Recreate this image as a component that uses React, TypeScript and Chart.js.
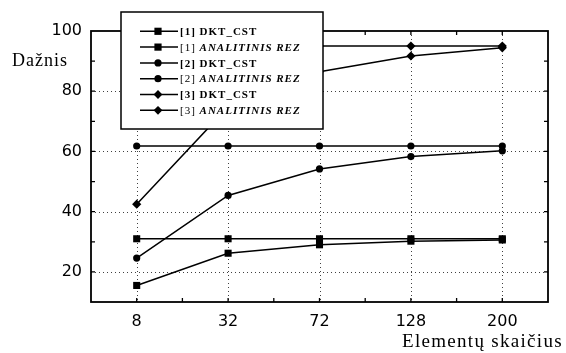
import React, { useEffect, useRef } from 'react';
import { Chart, registerables } from 'chart.js';

Chart.register(...registerables);

const categories = ['8', '32', '72', '128', '200'];
const dkt1 = [15.5, 26.2, 29.0, 30.2, 30.6];
const anal1 = [31, 31, 31, 31, 31];
const dkt2 = [24.6, 45.4, 54.2, 58.3, 60.2];
const anal2 = [61.8, 61.8, 61.8, 61.8, 61.8];
const dkt3 = [42.5, 74.8, 86.5, 91.7, 94.4];
const anal3 = [95, 95, 95, 95, 95];

const seriesPrefixes = ['[1] ', '[1] ', '[2] ', '[2] ', '[3] ', '[3] '];
const seriesNames = ['DKT_CST', 'ANALITINIS REZ', 'DKT_CST', 'ANALITINIS REZ', 'DKT_CST', 'ANALITINIS REZ'];
const seriesStyles = ['rect', 'rect', 'circle', 'circle', 'rectRot', 'rectRot'];
const seriesItalic = [false, true, false, true, false, true];

const yTickValues = [20, 40, 60, 80, 100];
const yGridValues = [20, 40, 60, 80];
const yMinorStep = 10;
const yMin = 10;
const yMax = 100;

const xAxisTitle = 'Elementų skaičius';
const yAxisTitle = 'Dažnis';

function drawMarker(ctx: CanvasRenderingContext2D, style: string, x: number, y: number) {
  ctx.beginPath();
  if (style === 'rect') {
    ctx.rect(x - 3.6, y - 3.6, 7.2, 7.2);
  } else if (style === 'circle') {
    ctx.arc(x, y, 3.6, 0, Math.PI * 2);
  } else {
    ctx.moveTo(x - 4.4, y);
    ctx.lineTo(x, y - 4.4);
    ctx.lineTo(x + 4.4, y);
    ctx.lineTo(x, y + 4.4);
    ctx.closePath();
  }
  ctx.fill();
}

const framePlugin = {
  id: 'frameAndLegend',
  beforeDatasetsDraw(chart: any) {
    const { ctx, chartArea: a, scales } = chart;
    const xs = scales.x;
    const ys = scales.y;
    ctx.save();
    // dotted grid
    ctx.strokeStyle = '#404040';
    ctx.lineWidth = 1;
    ctx.setLineDash([1, 3]);
    for (const v of yGridValues) {
      const py = Math.round(ys.getPixelForValue(v)) + 0.5;
      ctx.beginPath();
      ctx.moveTo(a.left, py);
      ctx.lineTo(a.right, py);
      ctx.stroke();
    }
    categories.forEach((_c, i) => {
      const px = Math.round(xs.getPixelForValue(i)) + 0.5;
      ctx.beginPath();
      ctx.moveTo(px, a.top);
      ctx.lineTo(px, a.bottom);
      ctx.stroke();
    });
    ctx.setLineDash([]);
    // inward ticks
    ctx.strokeStyle = '#000';
    ctx.lineWidth = 1.3;
    for (let v = yMin + yMinorStep; v < yMax; v += yMinorStep) {
      const py = ys.getPixelForValue(v);
      ctx.beginPath();
      ctx.moveTo(a.left, py);
      ctx.lineTo(a.left + 4, py);
      ctx.moveTo(a.right, py);
      ctx.lineTo(a.right - 4, py);
      ctx.stroke();
    }
    for (let i = 0; i < categories.length; i++) {
      const positions = [xs.getPixelForValue(i)];
      if (i > 0) positions.push((xs.getPixelForValue(i) + xs.getPixelForValue(i - 1)) / 2);
      for (const px of positions) {
        ctx.beginPath();
        ctx.moveTo(px, a.bottom);
        ctx.lineTo(px, a.bottom - 4);
        ctx.moveTo(px, a.top);
        ctx.lineTo(px, a.top + 4);
        ctx.stroke();
      }
    }
    // frame
    ctx.lineWidth = 1.8;
    ctx.strokeRect(a.left, a.top, a.right - a.left, a.bottom - a.top);
    // titles
    ctx.fillStyle = '#000';
    ctx.textBaseline = 'alphabetic';
    ctx.textAlign = 'left';
    (ctx as any).letterSpacing = '1px';
    ctx.font = '18px "Liberation Serif"';
    ctx.fillText(yAxisTitle, 12, 66);
    (ctx as any).letterSpacing = '1.3px';
    ctx.font = '19px "Liberation Serif"';
    ctx.fillText(xAxisTitle, 402, 347);
    ctx.restore();
  },
  afterDatasetsDraw(chart: any) {
    const { ctx } = chart;
    ctx.save();
    const bx = 121, by = 12, bw = 202, bh = 117;
    ctx.fillStyle = '#fff';
    ctx.fillRect(bx, by, bw, bh);
    ctx.strokeStyle = '#000';
    ctx.lineWidth = 1.5;
    ctx.strokeRect(bx, by, bw, bh);
    chart.data.datasets.forEach((ds: any, i: number) => {
      const base = 35 + i * 15.8;
      const my = base - 3.7;
      ctx.strokeStyle = '#000';
      ctx.lineWidth = 1.5;
      ctx.beginPath();
      ctx.moveTo(140, my);
      ctx.lineTo(178, my);
      ctx.stroke();
      ctx.fillStyle = '#000';
      drawMarker(ctx, ds.pointStyle, 158, my);
      (ctx as any).letterSpacing = '1px';
      ctx.textAlign = 'left';
      ctx.textBaseline = 'alphabetic';
      const prefix = seriesPrefixes[i];
      ctx.font = seriesItalic[i] ? '11px "Liberation Serif"' : 'bold 11px "Liberation Serif"';
      ctx.fillText(prefix, 180, base);
      const w = ctx.measureText(prefix).width;
      ctx.font = seriesItalic[i] ? 'italic bold 11px "Liberation Serif"' : 'bold 11px "Liberation Serif"';
      ctx.fillText(seriesNames[i], 180 + w, base);
    });
    ctx.restore();
  },
};

export default function App() {
  const ref = useRef<HTMLCanvasElement>(null);
  useEffect(() => {
    if (!ref.current) return;
    const all = [dkt1, anal1, dkt2, anal2, dkt3, anal3];
    const chart = new Chart(ref.current, {
      type: 'line',
      data: {
        labels: categories,
        datasets: all.map((d, i) => ({
          label: seriesPrefixes[i] + seriesNames[i],
          data: d,
          borderColor: '#000',
          backgroundColor: '#000',
          borderWidth: 1.5,
          pointStyle: seriesStyles[i] as any,
          pointRadius: seriesStyles[i] === 'rect' ? 5 : seriesStyles[i] === 'circle' ? 3.6 : 4.6,
          pointBorderWidth: 0,
          tension: 0,
          fill: false,
        })),
      },
      options: {
        responsive: false,
        animation: false,
        devicePixelRatio: 1,
        layout: { padding: { left: 0, top: 31, right: 18, bottom: 0 } },
        plugins: { legend: { display: false }, tooltip: { enabled: false } },
        scales: {
          x: {
            type: 'category',
            offset: true,
            grid: { display: false, drawTicks: false },
            border: { display: false },
            ticks: {
              color: '#000',
              padding: 10,
              font: { family: '"DejaVu Sans"', size: 16 },
              maxRotation: 0,
            },
            afterFit: (axis: any) => { axis.height = 51; },
          },
          y: {
            min: yMin,
            max: yMax,
            grid: { display: false, drawTicks: false },
            border: { display: false },
            afterBuildTicks: (axis: any) => {
              axis.ticks = yTickValues.map((v) => ({ value: v }));
            },
            ticks: {
              color: '#000',
              padding: 9,
              font: { family: '"DejaVu Sans"', size: 16 },
            },
            afterFit: (axis: any) => { axis.width = 91; },
          },
        },
      },
      plugins: [framePlugin],
    });
    return () => chart.destroy();
  }, []);
  return (
    <div style={{ position: 'fixed', left: 0, top: 0, width: 566, height: 353, background: '#fff' }}>
      <canvas ref={ref} width={566} height={353} />
    </div>
  );
}
